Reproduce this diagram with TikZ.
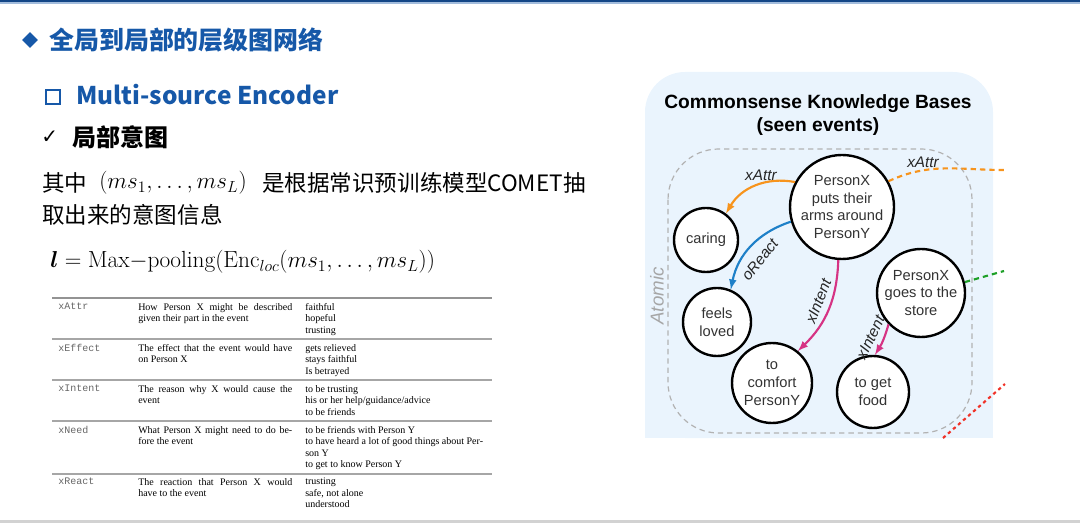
\documentclass[tikz,border=0pt]{standalone}
\usepackage{fontspec}
\usepackage{amsmath}
\usetikzlibrary{shapes.geometric,positioning}
\newfontfamily\cjk{Noto Sans CJK SC}
\newfontfamily\helv{Liberation Sans}
\newfontfamily\tms{Liberation Serif}
\newfontfamily\cour{Liberation Mono}
\newfontfamily\symb{DejaVu Sans}
\definecolor{headblue}{RGB}{22,88,168}
\definecolor{kbfill}{RGB}{234,244,253}
\definecolor{attrorange}{RGB}{247,148,29}
\definecolor{reactblue}{RGB}{30,128,200}
\definecolor{intentpink}{RGB}{214,51,132}
\definecolor{needgreen}{RGB}{30,160,40}
\definecolor{effectred}{RGB}{240,50,40}
\tikzstyle{head}=[anchor=west,inner sep=0pt,text=headblue,font=\cjk\bfseries\fontsize{18.7}{24}\selectfont]
\tikzstyle{subhead}=[anchor=west,inner sep=0pt,text=headblue,font=\cjk\bfseries\fontsize{18.3}{22}\selectfont]
\tikzstyle{body}=[anchor=west,inner sep=0pt,font=\cjk\fontsize{16.9}{20}\selectfont]
\tikzstyle{relname}=[anchor=north west,inner sep=0pt,text=black!60,font=\cour\fontsize{7.5}{8.6}\selectfont]
\tikzstyle{reltext}=[anchor=north west,inner sep=0pt,align=left,font=\tms\fontsize{7.5}{8.6}\selectfont]
\tikzstyle{tabrule}=[gray!70,line width=1.4pt]
\tikzstyle{event}=[draw,circle,line width=1.8pt,fill=white,inner sep=0pt,align=center,text=black!80,font=\helv\fontsize{11}{13.3}\selectfont]
\tikzstyle{rel}=[->,line width=1.6pt]
\tikzstyle{elabel}=[inner sep=1.5pt,text=black!85,font=\helv\itshape\fontsize{11.5}{12}\selectfont]
\tikzstyle{ext}=[line width=1.6pt,dash pattern=on 4pt off 3pt]
\newcommand{\jline}[1]{\makebox[115.5pt][s]{#1}\\}
\newcommand{\relrow}[4]{% y of first line, relation, description, examples
  \node[relname] (#2) at (58,-#1) {#2};
  \node[reltext] (#2-d) at (138,-#1) {#3};
  \node[reltext] (#2-e) at (305,-#1) {#4};
}

\begin{document}
\begin{tikzpicture}[x=0.75pt,y=0.75pt,>=latex]
  \useasboundingbox (0,0) rectangle (1080,-523);
  % slide frame
  \draw[headblue!80!black,line width=1.5pt] (0,-1) -- (1080,-1);
  \draw[headblue!40,line width=0.8pt] (0,-3) -- (1080,-3);
  \fill[gray!35] (0,-520) rectangle (1080,-523);

  % headings
  \node[diamond,fill=headblue,inner sep=0pt,minimum size=12pt] (dia) at (30,-40) {};
  \node[head] (title) at (49,-40) {全局到局部的层级图网络};
  \node[draw=headblue,line width=2pt,inner sep=0pt,minimum size=10.5pt] (box) at (53,-97) {};
  \node[subhead] (enc) at (76,-95) {Multi-source Encoder};
  \node[anchor=west,inner sep=0pt,font=\symb\fontsize{15}{16}\selectfont] (tick) at (41,-137) {✓};
  \node[anchor=west,inner sep=0pt,font=\cjk\bfseries\fontsize{18}{22}\selectfont] (local) at (72,-137) {局部意图};

  % text and formula
  \node[body] (l1a) at (42,-183) {其中};
  \node[body,font=\fontsize{16.7}{20}\selectfont] (l1m) at (99,-183) {$(ms_1,\ldots,ms_L)$};
  \node[body] (l1b) at (262,-183) {是根据常识预训练模型COMET抽};
  \node[body] (l2) at (42,-215) {取出来的意图信息};
  \node[anchor=west,inner sep=0pt,font=\fontsize{17.5}{20}\selectfont] (pool) at (50,-262)
    {$\boldsymbol{l}=\mathrm{Max}{-}\mathrm{pooling}(\mathrm{Enc}_{loc}(ms_1,\ldots,ms_L))$};

  % relation table
  \foreach \y in {339,380,421,474}
    \draw[tabrule] (52,-\y) -- (492,-\y);
  \draw[tabrule,gray!85] (52,-298) -- (492,-298);
  \relrow{303}{xAttr}{\jline{How Person X might be described}given their part in the event}
    {faithful\\hopeful\\trusting}
  \relrow{344}{xEffect}{\jline{The effect that the event would have}on Person X}
    {gets relieved\\stays faithful\\Is betrayed}
  \relrow{385}{xIntent}{\jline{The reason why X would cause the}event}
    {to be trusting\\his or her help/guidance/advice\\to be friends}
  \relrow{426}{xNeed}{\jline{What Person X might need to do be-}fore the event}
    {to be friends with Person Y\\to have heard a lot of good things about Per-\\son Y\\to get to know Person Y}
  \relrow{478}{xReact}{\jline{The reaction that Person X would}have to the event}
    {trusting\\safe, not alone\\understood}

  % knowledge base panel
  \fill[kbfill,rounded corners=30] (645,-72) rectangle (993,-438);
  \fill[kbfill] (645,-300) rectangle (993,-438);
  \draw[gray!60,line width=0.9pt,dash pattern=on 4pt off 3pt,rounded corners=38]
    (668,-149) rectangle (972,-433);
  \node[align=center,font=\helv\bfseries\fontsize{14.4}{17.3}\selectfont] (kbtitle) at (818,-115)
    {Commonsense Knowledge Bases\\(seen events)};
  \node[rotate=90,text=gray!70,font=\helv\itshape\fontsize{14}{16}\selectfont] (atomic) at (657,-296) {Atomic};

  \node[event,minimum size=78pt] (puts) at (842,-207) {PersonX\\puts their\\arms around\\PersonY};
  \node[event,minimum size=48pt] (caring) at (706,-240) {caring};
  \node[event,minimum size=51pt] (loved) at (717,-322) {feels\\loved};
  \node[event,minimum size=60pt] (comfort) at (772,-383) {to\\comfort\\PersonY};
  \node[event,minimum size=66pt] (store) at (921,-293) {PersonX\\goes to the\\store};
  \node[event,minimum size=54pt] (food) at (873,-392) {to get\\food};

  \coordinate (attrend) at (1004,-170);
  \coordinate (needend) at (1004,-271);
  \coordinate (effstart) at (943,-438);
  \coordinate (effend) at (1005,-384);

  \draw[rel,attrorange] (puts.152) to[bend right=35] node[elabel,above,pos=0.42] {xAttr} (caring.53);
  \draw[rel,reactblue] (puts.196) to[bend right=30] node[elabel,sloped,below=5pt,pos=0.55] {oReact} (loved.67);
  \draw[rel,intentpink] (puts.266) to[bend left=22] node[elabel,sloped,above=3pt,pos=0.45] {xIntent} (comfort.51);
  \draw[rel,intentpink] (store.224) to[bend left=8] node[elabel,sloped,above=3pt,pos=0.6] {xIntent} (food.87);

  \draw[ext,attrorange] (puts.29) to[out=25,in=180] node[elabel,above,pos=0.3] {xAttr} (attrend);
  \draw[ext,needgreen] (store.14) -- (needend);
  \draw[ext,effectred,dash pattern=on 2.5pt off 2.5pt] (effstart) -- (effend);
\end{tikzpicture}
\end{document}
